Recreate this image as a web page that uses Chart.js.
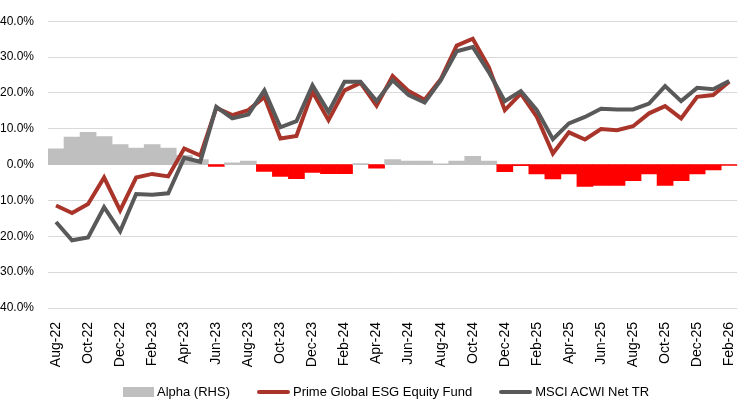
<!DOCTYPE html>
<html>
<head>
<meta charset="utf-8">
<script src="https://cdn.jsdelivr.net/npm/chart.js@4/dist/chart.umd.min.js"></script>
<style>
  body { margin: 0; background: #fff; overflow: hidden; width: 752px; height: 403px; position: relative; }
  #chart { position: absolute; left: -8px; top: 0; }
  #legend { position: absolute; left: 123px; top: 384px; display: flex; align-items: center; gap: 27px;
    font-family: 'Liberation Sans', Arial, sans-serif; font-size: 13px; color: #000; }
  .item { display: flex; align-items: center; gap: 3px; }
</style>
</head>
<body>
<canvas id="chart" width="760" height="403"></canvas>
<div id="legend"></div>
<script>
// monthly observations
const months = ['Aug-22','Sep-22','Oct-22','Nov-22','Dec-22','Jan-23','Feb-23','Mar-23','Apr-23','May-23','Jun-23','Jul-23',
  'Aug-23','Sep-23','Oct-23','Nov-23','Dec-23','Jan-24','Feb-24','Mar-24','Apr-24','May-24','Jun-24','Jul-24',
  'Aug-24','Sep-24','Oct-24','Nov-24','Dec-24','Jan-25','Feb-25','Mar-25','Apr-25','May-25','Jun-25','Jul-25',
  'Aug-25','Sep-25','Oct-25','Nov-25','Dec-25','Jan-26','Feb-26'];

const fund = [-11.4,-13.5,-11.0,-3.6,-12.8,-3.6,-2.6,-3.3,4.5,2.5,15.8,13.8,15.2,18.9,7.3,8.0,20.3,12.4,20.7,22.8,16.4,24.7,
  20.5,18.1,23.8,33.2,35.1,27.2,15.2,19.8,13.3,3.1,9.0,7.0,9.9,9.6,10.7,14.3,16.3,12.9,18.9,19.4,23.1];

const msci = [-16.0,-21.1,-20.3,-11.9,-18.6,-8.2,-8.4,-8.0,1.9,0.8,16.1,12.9,14.0,20.7,10.4,12.1,22.1,14.7,23.1,23.1,17.7,23.5,
  19.4,17.3,23.5,31.6,32.8,25.8,17.7,20.5,15.2,7.1,11.5,13.3,15.6,15.4,15.4,17.0,21.9,17.7,21.4,21.0,23.3];

const alpha = [4.4,7.7,9.0,7.8,5.6,4.6,5.6,4.6,2.6,1.4,-0.5,0.5,1.0,-1.9,-3.3,-3.9,-2.2,-2.5,-2.5,0.3,-1.0,1.4,1.0,1.0,0.2,1.0,
  2.3,1.0,-2.0,-0.3,-2.6,-4.0,-2.6,-6.1,-5.8,-5.8,-4.5,-2.6,-5.8,-4.5,-2.6,-1.5,-0.2];

const yTicks = [-40, -30, -20, -10, 0, 10, 20, 30, 40];

const GREY_BAR = '#BFBFBF';
const RED_BAR = '#FF0000';
const FUND_COL = '#A9342A';
const MSCI_COL = '#595959';

const FAMILY = "'Liberation Sans', Arial, sans-serif";

const chart = new Chart(document.getElementById('chart'), {
  data: {
    labels: months,
    datasets: [
      {
        type: 'bar',
        label: 'Alpha (RHS)',
        data: alpha,
        yAxisID: 'y1',
        backgroundColor: alpha.map(v => v < 0 ? RED_BAR : GREY_BAR),
        barPercentage: 1,
        categoryPercentage: 1,
        order: 3
      },
      {
        type: 'line',
        label: 'Prime Global ESG Equity Fund',
        data: fund,
        borderColor: FUND_COL,
        borderWidth: 4,
        pointRadius: 0,
        tension: 0,
        order: 2
      },
      {
        type: 'line',
        label: 'MSCI ACWI Net TR',
        data: msci,
        borderColor: MSCI_COL,
        borderWidth: 4,
        pointRadius: 0,
        tension: 0,
        order: 1
      }
    ]
  },
  options: {
    responsive: false,
    animation: false,
    layout: { padding: { top: 17, right: 0, bottom: 0, left: 0 } },
    plugins: { legend: { display: false }, tooltip: { enabled: false } },
    scales: {
      x: {
        grid: { display: false },
        border: { display: false },
        ticks: {
          autoSkip: false, minRotation: 90, maxRotation: 90, padding: 6,
          color: '#000', font: { family: FAMILY, size: 14 },
          callback: function (v, i) { return i % 2 === 0 ? this.getLabelForValue(v) : ''; }
        },
        afterFit: s => { s.height = 95; }
      },
      y: {
        min: -40, max: 40,
        afterBuildTicks: s => { s.ticks = yTicks.map(v => ({ value: v })); },
        grid: { color: '#D9D9D9', lineWidth: 1, drawTicks: false },
        border: { display: false },
        ticks: { padding: 14, color: '#000', font: { family: FAMILY, size: 12 }, callback: v => v.toFixed(1) + '%' },
        afterFit: s => { s.width = 56; }
      },
      y1: { min: -40, max: 40, display: false }
    }
  }
});

// legend under the chart
const legend = document.getElementById('legend');
chart.data.datasets.forEach(ds => {
  const item = document.createElement('div');
  item.className = 'item';
  const mark = document.createElement('span');
  if (ds.type === 'bar') {
    mark.style.cssText = `display:inline-block;width:31px;height:10px;background:${GREY_BAR}`;
  } else {
    mark.style.cssText = `display:inline-block;width:33px;height:4px;border-radius:2px;background:${ds.borderColor}`;
  }
  const txt = document.createElement('span');
  txt.textContent = ds.label;
  item.appendChild(mark);
  item.appendChild(txt);
  legend.appendChild(item);
});
</script>
</body>
</html>
